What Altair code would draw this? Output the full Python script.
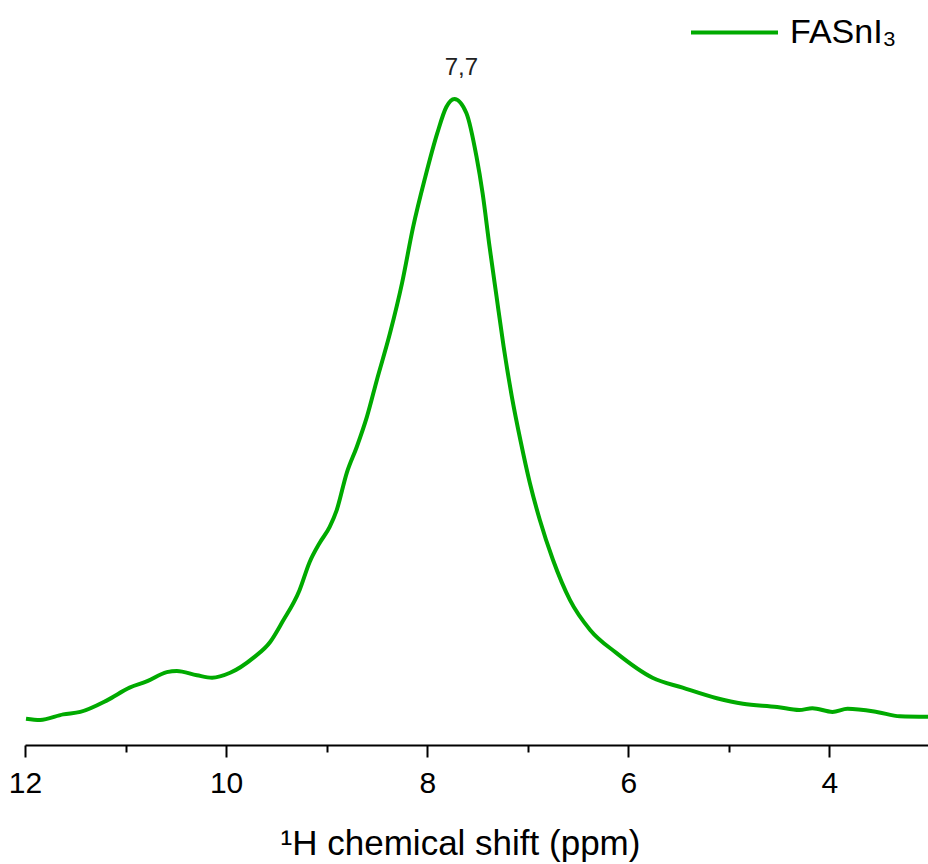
import altair as alt
import pandas as pd

# 1H NMR spectrum of FASnI3
ppm = [11.99, 11.85, 11.62, 11.45, 11.18, 10.96, 10.79, 10.59, 10.49, 10.29,
       10.14, 9.96, 9.73, 9.56, 9.44, 9.27, 9.17, 9.07, 8.97, 8.90,
       8.80, 8.70, 8.60, 8.50, 8.37, 8.25, 8.14, 8.02, 7.90, 7.81,
       7.73, 7.61, 7.51, 7.45, 7.38, 7.31, 7.24, 7.16, 7.07, 6.98,
       6.88, 6.75, 6.58, 6.38, 6.12, 5.76, 5.46, 5.12, 4.86, 4.52,
       4.30, 4.17, 3.97, 3.82, 3.53, 3.30, 3.02]
intensity = [0.002, 0.000, 0.009, 0.013, 0.032, 0.052, 0.062, 0.077, 0.079, 0.072,
             0.068, 0.076, 0.100, 0.126, 0.158, 0.209, 0.254, 0.285, 0.311, 0.338,
             0.398, 0.440, 0.488, 0.548, 0.623, 0.704, 0.794, 0.874, 0.945, 0.987,
             1.000, 0.977, 0.907, 0.849, 0.762, 0.681, 0.601, 0.522, 0.448, 0.382,
             0.322, 0.258, 0.193, 0.145, 0.108, 0.068, 0.052, 0.035, 0.026, 0.021,
             0.016, 0.019, 0.013, 0.018, 0.013, 0.006, 0.005]
series_name = "FASnI₃"
tick_values = [12, 11, 10, 9, 8, 7, 6, 5, 4]
peak_ppm = [7.7]
peak_intensity = [1.0]
peak_label = ["7,7"]

df = pd.DataFrame({"ppm": ppm, "intensity": intensity,
                   "series": [series_name] * len(ppm)})
ann = pd.DataFrame({"ppm": peak_ppm, "intensity": peak_intensity, "label": peak_label})

FONT = "Liberation Sans"
x_scale = alt.Scale(domain=[12, 3.02], nice=False, zero=False)
y_scale = alt.Scale(domain=[-0.0403, 1.1594], nice=False, zero=False)

x_axis = alt.Axis(
    values=tick_values,
    format="d",
    title="¹H chemical shift (ppm)",
    labelExpr="datum.value % 2 == 0 ? datum.label : ''",
    labelFlush=False,
    tickSize={"condition": {"test": "datum.value % 2 == 0", "value": 12}, "value": 7},
    tickWidth=2,
    tickColor="black",
    domainColor="black",
    domainWidth=2,
    grid=False,
    labelFont=FONT,
    labelFontSize=30,
    labelColor="black",
    labelPadding=11,
    titleFont=FONT,
    titleFontSize=35,
    titleFontWeight="normal",
    titleColor="black",
    titleX=435,
    titleY=109,
    titleBaseline="alphabetic",
)

line = alt.Chart(df).mark_line(strokeWidth=4, interpolate="monotone").encode(
    x=alt.X("ppm:Q", scale=x_scale, axis=x_axis),
    y=alt.Y("intensity:Q", scale=y_scale, axis=None),
    color=alt.Color(
        "series:N",
        scale=alt.Scale(domain=[series_name], range=["#00AA00"]),
        legend=alt.Legend(
            title=None,
            orient="none",
            legendX=664,
            legendY=-13,
            symbolType="stroke",
            symbolSize=7569,
            symbolStrokeWidth=4,
            labelFont=FONT,
            labelFontSize=34,
            labelColor="black",
            labelOffset=10,
            labelLimit=300,
        ),
    ),
)

text = alt.Chart(ann).mark_text(
    font=FONT, fontSize=24, color="#222222", baseline="alphabetic", dx=4, dy=-24
).encode(
    x=alt.X("ppm:Q", scale=x_scale),
    y=alt.Y("intensity:Q", scale=y_scale),
    text="label:N",
)

chart = (
    alt.layer(line, text)
    .properties(
        width=903,
        height=745,
        autosize=alt.AutoSizeParams(type="none"),
        padding={"left": 25, "top": 0, "right": 0, "bottom": 119},
        background="white",
    )
    .configure_view(stroke=None)
)

chart.save("out.html", embed_options={"renderer": "svg", "actions": False})
